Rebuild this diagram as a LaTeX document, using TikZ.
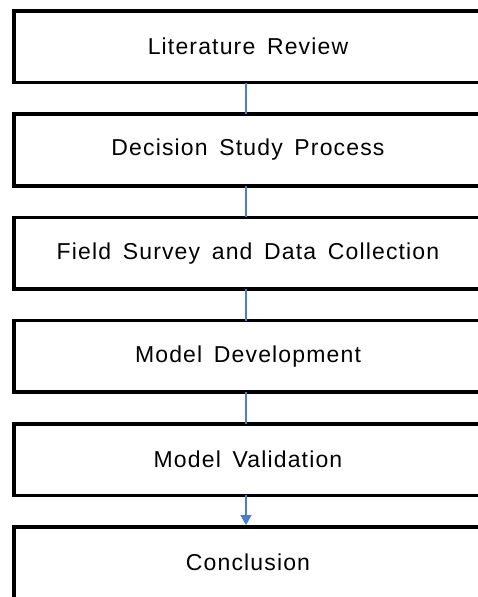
\documentclass[tikz,border=0pt]{standalone}
\usepackage{fontspec}
\setmainfont{Liberation Sans}[LetterSpace=5, WordSpace=1.55]
\usetikzlibrary{arrows.meta,positioning}
\definecolor{linkblue}{RGB}{74,126,205}

\begin{document}
\begin{tikzpicture}[node distance=31.7pt,
                    box/.style={draw, line width=3.6pt, minimum width=468pt,
                                minimum height=71.5pt, outer sep=0pt,
                                font=\fontsize{23}{26}\selectfont},
                    link/.style={draw=linkblue, line width=1.4pt}]
                    \useasboundingbox (0,0) rectangle (477pt,-597pt);

                    % the six stages, top to bottom
                    \node (lit) [box] at (248pt,-46.75pt) {Literature Review};
                    \node (dsp) [box, below=of lit] {Decision Study Process};
                    \node (field) [box, below=of dsp] {Field Survey and Data Collection};
                    \node (mdev) [box, below=of field] {Model Development};
                    \node (mval) [box, below=of mdev] {Model Validation};
                    \node (concl) [box, below=of mval] {Conclusion};

                    \draw[link] ([xshift=-2pt]lit.south) -- ([xshift=-2pt]dsp.north);
                    \draw[link] ([xshift=-2pt]dsp.south) -- ([xshift=-2pt]field.north);
                    \draw[link] ([xshift=-2pt]field.south) -- ([xshift=-2pt]mdev.north);
                    \draw[link] ([xshift=-2pt]mdev.south) -- ([xshift=-2pt]mval.north);
                    \draw[link, -{Triangle[length=10pt,width=11pt]}, shorten >=2pt]
                        ([xshift=-2pt]mval.south) -- ([xshift=-2pt]concl.north);
                \end{tikzpicture}
\end{document}
